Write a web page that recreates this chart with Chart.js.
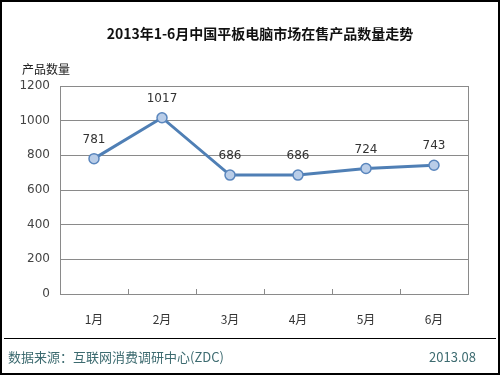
<!DOCTYPE html>
<html>
<head>
<meta charset="utf-8">
<script src="https://cdn.jsdelivr.net/npm/chart.js@4"></script>
<style>
  html, body { margin: 0; padding: 0; background: #fff; }
  #wrap { width: 500px; height: 375px; position: relative; }
</style>
</head>
<body>
<div id="wrap"><canvas id="chart" width="500" height="375"></canvas></div>
<script>
const months = ['1月', '2月', '3月', '4月', '5月', '6月'];
const counts = [781, 1017, 686, 686, 724, 743];
const yTicks = [0, 200, 400, 600, 800, 1000, 1200];

const titleText = '2013年1-6月中国平板电脑市场在售产品数量走势';
const yLabel = '产品数量';
const sourceText = '数据来源：互联网消费调研中心(ZDC)';
const dateText = '2013.08';

const font = '"Noto Sans CJK SC", "DejaVu Sans", sans-serif';

const decor = {
    id: 'decor',
    beforeDatasetsDraw(chart) {
        const ctx = chart.ctx;
        const a = chart.chartArea;
        const x = chart.scales.x;
        ctx.save();
        ctx.strokeStyle = '#8a8a8a';
        ctx.lineWidth = 1;
        ctx.strokeRect(Math.round(a.left) + 0.5, Math.round(a.top) + 0.5, Math.round(a.right - a.left), Math.round(a.bottom - a.top));
        // small ticks between categories
        const half = (x.getPixelForValue(1) - x.getPixelForValue(0)) / 2;
        for (let i = 0; i < months.length - 1; i++) {
            const px = Math.round(x.getPixelForValue(i) + half) + 0.5;
            ctx.beginPath();
            ctx.moveTo(px, a.bottom);
            ctx.lineTo(px, a.bottom - 5);
            ctx.stroke();
        }
        ctx.restore();
    },
    afterDraw(chart) {
        const ctx = chart.ctx;
        const meta = chart.getDatasetMeta(0);
        ctx.save();
        // title
        ctx.fillStyle = '#111';
        ctx.font = 'bold 14px ' + font;
        ctx.textAlign = 'center';
        ctx.textBaseline = 'middle';
        ctx.fillText(titleText, 260, 34);
        // y axis label
        ctx.font = '12px ' + font;
        ctx.textAlign = 'left';
        ctx.fillStyle = '#222';
        ctx.fillText(yLabel, 22, 69);
        // value labels
        ctx.font = '12px "DejaVu Sans", sans-serif';
        ctx.textAlign = 'center';
        ctx.fillStyle = '#333';
        meta.data.forEach((pt, i) => {
            ctx.fillText(String(counts[i]), pt.x, pt.y - 19);
        });
        // separator + footer
        ctx.strokeStyle = '#000';
        ctx.lineWidth = 1;
        ctx.beginPath();
        ctx.moveTo(4, 338.5);
        ctx.lineTo(496, 338.5);
        ctx.stroke();
        ctx.fillStyle = '#3d6b70';
        ctx.font = '13px ' + font;
        ctx.textAlign = 'left';
        ctx.fillText(sourceText, 8, 357);
        ctx.textAlign = 'right';
        ctx.fillText(dateText, 476, 357);
        // outer frame
        ctx.strokeStyle = '#000';
        ctx.lineWidth = 2;
        ctx.strokeRect(1, 1, 498, 373);
        ctx.restore();
    }
};

new Chart(document.getElementById('chart'), {
    type: 'line',
    data: {
        labels: months,
        datasets: [{
            data: counts,
            borderColor: '#4f7fb5',
            borderWidth: 3,
            pointBackgroundColor: '#b9cde8',
            pointBorderColor: '#5a86bd',
            pointBorderWidth: 1.5,
            pointRadius: 5,
            tension: 0,
            clip: false
        }]
    },
    options: {
        responsive: false,
        animation: false,
        layout: { padding: { left: 0, right: 32, top: 86, bottom: 0 } },
        plugins: { legend: { display: false }, tooltip: { enabled: false } },
        scales: {
            x: {
                offset: true,
                grid: { display: false },
                border: { display: false },
                ticks: { color: '#333', font: { size: 12, family: font }, padding: 10 },
                afterFit(s) { s.height = 81; }
            },
            y: {
                min: 0,
                max: 1200,
                afterBuildTicks(s) { s.ticks = yTicks.map(v => ({ value: v })); },
                grid: { color: '#8a8a8a', drawTicks: false },
                border: { display: false },
                ticks: {
                    color: '#444',
                    font: { size: 12, family: '"DejaVu Sans", sans-serif' },
                    padding: 10,
                    callback: v => String(v)
                },
                afterFit(s) { s.width = 60; }
            }
        }
    },
    plugins: [decor]
});
</script>
</body>
</html>
